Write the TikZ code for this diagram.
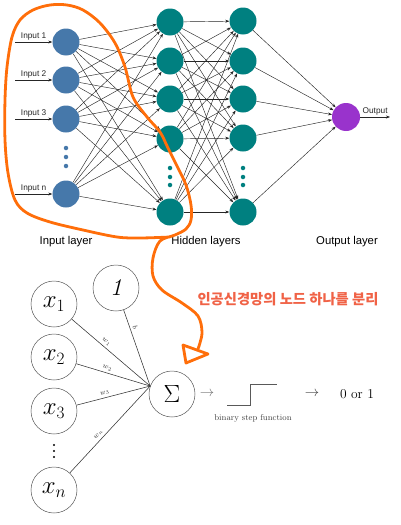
\documentclass[tikz,border=0pt]{standalone}
\usepackage{fontspec}
\usepackage{amsmath}
\usetikzlibrary{arrows.meta, calc}
\newfontfamily\labelfont{Liberation Sans}
\newfontfamily\kofont{Noto Sans CJK KR}
\definecolor{inblue}{RGB}{70, 120, 170}
\definecolor{hidteal}{RGB}{0, 128, 128}
\definecolor{outpurple}{RGB}{153, 51, 204}
\definecolor{penorange}{RGB}{255, 110, 10}
\definecolor{notered}{RGB}{240, 98, 70}

\begin{document}
\begin{tikzpicture}[x=1pt, y=-1pt,
  unit/.style={circle, minimum size=27pt, inner sep=0pt},
  inunit/.style={unit, fill=inblue},
  hidunit/.style={unit, fill=hidteal},
  outunit/.style={unit, fill=outpurple, minimum size=28pt},
  link/.style={black!85, line width=0.45pt, -{Stealth[length=4pt, width=3pt]}},
  vdot/.style={circle, inner sep=0pt, minimum size=4.5pt},
  layername/.style={font=\labelfont\fontsize{11.3}{12}\selectfont},
  smalllabel/.style={font=\labelfont\fontsize{8.3}{9}\selectfont, inner sep=1.5pt},
  neuron/.style={circle, draw=black!65, line width=0.5pt, minimum size=46pt, inner sep=0pt},
  wire/.style={black!80, line width=0.55pt},
  weight/.style={font=\fontsize{7.5}{7.5}\selectfont, pos=0.4, sloped, above, inner sep=2.5pt},
  pen/.style={penorange, line width=2.8pt, line cap=round, line join=round}]

  \useasboundingbox (0,0) rectangle (401,525);

  % Input layer
  \foreach \i/\y in {1/42, 2/80, 3/119, 4/194}
    \node[inunit] (in\i) at (66,\y) {};
  \foreach \k/\y in {1/148, 2/157, 3/166}
    \node[vdot, fill=inblue] (din\k) at (66,\y) {};

  % Hidden layers
  \foreach \j/\y in {1/22, 2/61, 3/99, 4/139, 5/212}
    \node[hidunit] (ha\j) at (170,\y) {};
  \foreach \j/\y in {1/21, 2/61, 3/99, 4/138, 5/212}
    \node[hidunit] (hb\j) at (243,\y) {};
  \foreach \k/\y in {1/168, 2/177, 3/185} {
    \node[vdot, fill=hidteal] (dha\k) at (170,\y) {};
    \node[vdot, fill=hidteal] (dhb\k) at (243,\y) {};
  }

  % Output layer
  \node[outunit] (out) at (346,117) {};

  % Connections
  \foreach \i in {1,...,4}
    \foreach \j in {1,...,5}
      \draw[link] (in\i) -- (ha\j);
  \foreach \i in {1,...,5}
    \foreach \j in {1,...,5}
      \draw[link] (ha\i) -- (hb\j);
  \foreach \j in {1,...,5}
    \draw[link] (hb\j) -- (out);

  % Inputs and output
  \foreach \i/\lbl in {1/Input 1, 2/Input 2, 3/Input 3, 4/Input n} {
    \coordinate (src\i) at ($(in\i) + (-51,0)$);
    \draw[link] (src\i) -- (in\i) node[smalllabel, midway, above] {\lbl};
  }
  \coordinate (sink) at (390,117);
  \draw[link] (out) -- (sink) node[smalllabel, midway, above] {Output};

  % Layer names
  \node[layername] (inname) at (66,242) {Input layer};
  \node[layername] (hidname) at (206,242) {Hidden layers};
  \node[layername] (outname) at (347,242) {Output layer};

  % Hand-drawn loop and arrow
  \draw[pen] plot[smooth, tension=0.55] coordinates {
    (170,237) (140,238) (117,237) (83,230) (50,222) (27,213) (15,200)
    (8,173) (5,140) (5,100) (7,67) (12,37) (20,20) (33,10) (50,5) (67,5)
    (83,10) (100,23) (115,43) (125,67) (133,97) (147,117) (160,132)
    (168,148) (177,166) (186,185) (191,205) (191,220) (186,229) (175,235)
    (160,241) (153,258) (153,276) (162,290) (182,303) (198,316) (202,333)
    (198,349)};
  \draw[pen] (183,345) -- (208,354) -- (186,363) -- cycle;

  \node[font=\kofont\bfseries\fontsize{14.3}{15}\selectfont, text=notered] (note) at (288,299) {인공신경망의 노드 하나를 분리};

  % Single neuron
  \node[neuron, font=\fontsize{24}{24}\selectfont] (x1) at (54,304) {$x_1$};
  \node[neuron, font=\fontsize{24}{24}\selectfont] (x2) at (54,357) {$x_2$};
  \node[neuron, font=\fontsize{24}{24}\selectfont] (x3) at (54,411) {$x_3$};
  \foreach \k/\y in {1/445, 2/451, 3/457}
    \node[vdot, fill=black, minimum size=2.4pt] (dx\k) at (54,\y) {};
  \node[neuron, font=\fontsize{24}{24}\selectfont] (xn) at (54,490) {$x_n$};
  \node[neuron, font=\fontsize{24}{24}\selectfont] (bias) at (116,288) {\textit{1}};
  \node[neuron, font=\fontsize{38}{38}\selectfont] (sig) at (172,394) {$\Sigma$};

  \draw[wire] (x1) -- (sig.160) node[weight] {$w_1$};
  \draw[wire] (x2) -- (sig.160) node[weight] {$w_2$};
  \draw[wire] (x3) -- (sig.160) node[weight] {$w_3$};
  \draw[wire] (xn) -- (sig.160) node[weight] {$w_n$};
  \draw[wire] (bias) -- (sig.160) node[weight, pos=0.25] {$b$};

  % Activation
  \node[text=black!55, font=\fontsize{14}{14}\selectfont] (arr1) at (207,394) {$\rightarrow$};
  \draw[black!65, line width=0.9pt] (227,405) -- (250,405) -- (250,384) -- (277,384);
  \node[text=black!75, font=\fontsize{8.5}{9}\selectfont] (steplbl) at (253,418) {binary step function};
  \node[text=black!75, font=\fontsize{14}{14}\selectfont] (arr2) at (312,394) {$\rightarrow$};
  \node[font=\fontsize{13.5}{14}\selectfont] (res) at (357,394) {0 or 1};
\end{tikzpicture}
\end{document}
